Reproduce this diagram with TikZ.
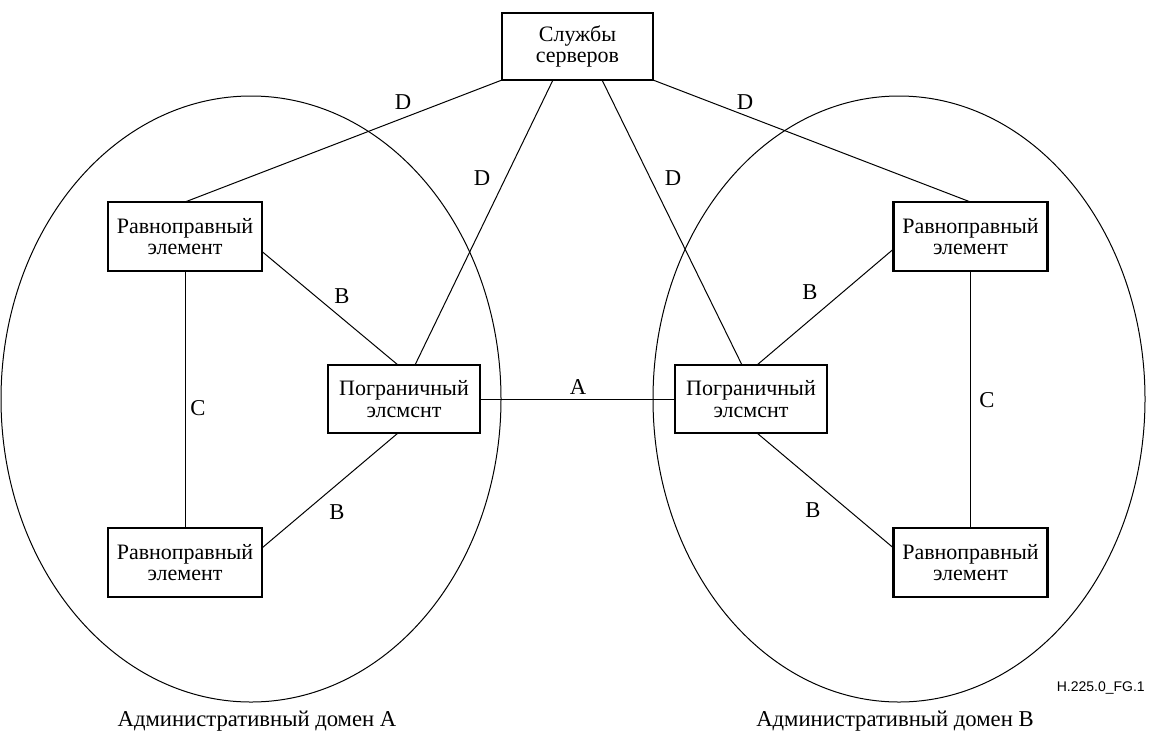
\documentclass[tikz,border=0pt]{standalone}
\usepackage{fontspec}
\setmainfont{Liberation Serif}
\newfontfamily\figsans{Liberation Sans}
\usetikzlibrary{calc}
\tikzset{
  box/.style={draw, line width=2.1pt, inner sep=0pt, outer sep=0pt, align=center,
     font=\fontsize{16.5}{16}\selectfont},
  peer/.style={box, minimum width=115.5pt, minimum height=51.75pt},
  border/.style={box, minimum width=114pt, minimum height=51pt},
  srvbox/.style={box, minimum width=113.25pt, minimum height=50.25pt},
  link/.style={line width=0.75pt},
  lbl/.style={inner sep=0pt, font=\fontsize{17}{20}\selectfont},
  dom/.style={line width=0.75pt}
}
\begin{document}
\begin{tikzpicture}[x=0.75pt,y=-0.75pt]
\useasboundingbox (0,0) rectangle (1149,740);
% domains
\draw[dom] (251,399) ellipse [x radius=187.5pt, y radius=227.25pt];
\draw[dom] (899,399) ellipse [x radius=184.5pt, y radius=227.25pt];
% nodes
\node[srvbox, fill=white] (srv) at (577.5,46.5) {Службы\\серверов};
\node[peer, fill=white] (lp1) at (185,236.5) {Равноправный\\элемент};
\node[peer, fill=white] (lp2) at (185,562.5) {Равноправный\\элемент};
\node[border, fill=white] (lb) at (404,399) {Пограничный\\элсмснт};
\node[border, fill=white] (rb) at (751,399) {Пограничный\\элсмснт};
\node[peer, fill=white] (rp1) at (970.5,236.5) {Равноправный\\элемент};
\node[peer, fill=white] (rp2) at (970.5,562.5) {Равноправный\\элемент};
% connectors
\draw[link] (srv.south west) -- (lp1.north);
\draw[link] ([xshift=-18.4pt]srv.south) -- ([xshift=8.25pt]lb.north);
\draw[link] ([xshift=18.4pt]srv.south) -- ([xshift=-6.75pt]rb.north);
\draw[link] (srv.south east) -- (rp1.north);
\draw[link] ([yshift=-11.25pt]lp1.east) -- ([xshift=-4.5pt]lb.north);
\draw[link] ([yshift=10.9pt]lp2.east) -- ([xshift=-4.5pt]lb.south);
\draw[link] (lp1.south) -- (lp2.north);
\draw[link] (lb.east) -- (rb.west);
\draw[link] ([xshift=4.5pt]rb.north) -- ([yshift=-9.4pt]rp1.west);
\draw[link] ([xshift=4.5pt]rb.south) -- ([yshift=10.9pt]rp2.west);
\draw[link] (rp1.south) -- (rp2.north);
% labels
\node[lbl] (dl) at (403,102) {D};
\node[lbl] (dr) at (745,102) {D};
\node[lbl] (dml) at (482,178) {D};
\node[lbl] (dmr) at (673,178) {D};
\node[lbl] (bl1) at (342,296) {B};
\node[lbl] (bl2) at (337,512) {B};
\node[lbl] (br1) at (810,292) {B};
\node[lbl] (br2) at (813,510) {B};
\node[lbl] (cl) at (198,408) {C};
\node[lbl] (cr) at (987,400) {C};
\node[lbl] (a) at (578,387) {A};
\node[lbl] (doma) at (257,721) {Административный домен А};
\node[lbl] (domb) at (895,721) {Административный домен В};
\node[inner sep=0pt, anchor=east, font=\figsans\fontsize{10.5}{12}\selectfont] (fg) at (1145,688) {H.225.0\_FG.1};
\end{tikzpicture}
\end{document}
